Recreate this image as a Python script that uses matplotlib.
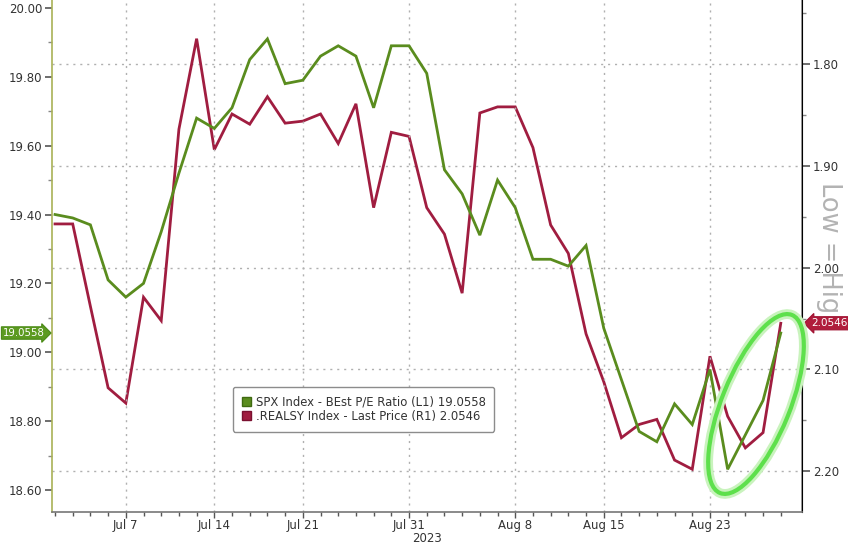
import matplotlib
matplotlib.use("Agg")
import matplotlib.pyplot as plt
import matplotlib.transforms as mtransforms
import matplotlib.patheffects as pe
from matplotlib.patches import Ellipse, Patch
from matplotlib.ticker import MultipleLocator, FormatStrFormatter

# ---- data (trading days, Jun 30 -> Aug 29, 2023) ----
dates = ["Jun 30", "Jul 3", "Jul 5", "Jul 6", "Jul 7",
         "Jul 10", "Jul 11", "Jul 12", "Jul 13", "Jul 14",
         "Jul 17", "Jul 18", "Jul 19", "Jul 20", "Jul 21",
         "Jul 24", "Jul 25", "Jul 26", "Jul 27", "Jul 28",
         "Jul 31", "Aug 1", "Aug 2", "Aug 3", "Aug 4",
         "Aug 7", "Aug 8", "Aug 9", "Aug 10", "Aug 11",
         "Aug 14", "Aug 15", "Aug 16", "Aug 17", "Aug 18",
         "Aug 21", "Aug 22", "Aug 23", "Aug 24", "Aug 25",
         "Aug 28", "Aug 29"]

spx_pe = [19.40, 19.39, 19.37, 19.21, 19.16,
          19.20, 19.35, 19.52, 19.68, 19.65,
          19.71, 19.85, 19.91, 19.78, 19.79,
          19.86, 19.89, 19.86, 19.71, 19.89,
          19.89, 19.81, 19.53, 19.46, 19.34,
          19.50, 19.42, 19.27, 19.27, 19.25,
          19.31, 19.07, 18.92, 18.77, 18.74,
          18.85, 18.79, 18.95, 18.66, 18.76,
          18.86, 19.0558]

real_yield = [1.957, 1.957, 2.038, 2.118, 2.133,
              2.029, 2.052, 1.864, 1.775, 1.884,
              1.849, 1.859, 1.832, 1.858, 1.856,
              1.849, 1.878, 1.839, 1.941, 1.867,
              1.871, 1.941, 1.967, 2.025, 1.848,
              1.842, 1.842, 1.882, 1.958, 1.986,
              2.065, 2.112, 2.167, 2.154, 2.149,
              2.189, 2.198, 2.087, 2.146, 2.177,
              2.162, 2.0546]

major_labels = ["Jul 7", "Jul 14", "Jul 21", "Jul 31", "Aug 8", "Aug 15", "Aug 23"]
year_label = "2023"
legend_labels = ["SPX Index - BEst P/E Ratio (L1) 19.0558",
                 ".REALSY Index - Last Price (R1) 2.0546"]
last_pe_label = "19.0558"
last_ry_label = "2.0546"
side_note = "Low = High"

GREEN = "#5a8c1e"
RED = "#a01d40"
TXT = "#333333"

W, H = 848, 546
fig = plt.figure(figsize=(W / 100, H / 100), dpi=100)
fig.patch.set_facecolor("white")
ax1 = fig.add_axes([52 / W, (H - 512) / H, 750 / W, 512 / H])
ax2 = ax1.twinx()
ax1.set_zorder(ax2.get_zorder() + 1)
ax1.patch.set_visible(False)
ax2.set_facecolor("white")

x = list(range(len(dates)))
major_idx = [dates.index(d) for d in major_labels]

ax2.plot(x, real_yield, color=RED, lw=2.0, solid_joinstyle="miter", zorder=3)
ax1.plot(x, spx_pe, color=GREEN, lw=2.0, solid_joinstyle="miter", zorder=3)

ax1.set_xlim(-0.17, 42.2)
ax1.set_ylim(18.536, 20.023)
ax2.set_ylim(2.240, 1.737)

# x axis
ax1.set_xticks(major_idx)
ax1.set_xticklabels(major_labels)
ax1.set_xticks(x, minor=True)
ax1.tick_params(axis="x", which="major", length=4, width=1, color="#555555",
                labelsize=8.5, labelcolor=TXT, pad=1)
ax1.tick_params(axis="x", which="minor", length=3, width=1, color="#555555")
ax1.set_xlabel(year_label, fontsize=8.5, color=TXT, labelpad=0)

# left axis
ax1.yaxis.set_major_locator(MultipleLocator(0.2))
ax1.yaxis.set_minor_locator(MultipleLocator(0.1))
ax1.yaxis.set_major_formatter(FormatStrFormatter("%.2f"))
ax1.tick_params(axis="y", which="major", length=5, width=1.2, color="#555555",
                labelsize=8.5, labelcolor=TXT, pad=2)
ax1.tick_params(axis="y", which="minor", length=3, width=1, color="#888888")

# right axis
ax2.yaxis.set_major_locator(MultipleLocator(0.1))
ax2.yaxis.set_minor_locator(MultipleLocator(0.05))
ax2.yaxis.set_major_formatter(FormatStrFormatter("%.2f"))
ax2.tick_params(axis="y", which="major", length=6, width=1.2, color="#555555",
                labelsize=8.5, labelcolor=TXT, pad=2)
ax2.tick_params(axis="y", which="minor", length=3, width=1, color="#888888")

# grids
ax2.yaxis.grid(True, which="major", color="#b0b0b0", linestyle=(0, (1.5, 3.5)), lw=1.0)
ax2.set_axisbelow(True)
ax1.xaxis.grid(True, which="major", color="#b0b0b0", linestyle=(0, (1.5, 3.5)), lw=1.0, zorder=1)
ax1.set_axisbelow(True)

for ax in (ax1, ax2):
    ax.spines["top"].set_visible(False)
ax1.spines["left"].set_color("#a9b256")
ax1.spines["left"].set_linewidth(1.2)
ax1.spines["bottom"].set_color("#777777")
ax1.spines["bottom"].set_linewidth(1.2)
ax2.spines["right"].set_color("#8a8a8a")
ax2.spines["right"].set_linewidth(1.2)
ax2.spines["left"].set_visible(False)
ax2.spines["bottom"].set_visible(False)

# last value tags
t1 = mtransforms.blended_transform_factory(ax1.transAxes, ax1.transData)
ax1.text(-0.010, spx_pe[-1], last_pe_label, transform=t1, ha="right", va="center",
         fontsize=7.3, color="white", clip_on=False, zorder=10,
         bbox=dict(boxstyle="rarrow,pad=0.12", fc="#5c9a20", ec="#4a8a16", lw=0.8))
t2 = mtransforms.blended_transform_factory(ax2.transAxes, ax2.transData)
ax2.text(1.012, real_yield[-1], last_ry_label, transform=t2, ha="left", va="center",
         fontsize=7.5, color="white", clip_on=False, zorder=10,
         bbox=dict(boxstyle="larrow,pad=0.15", fc="#b01c3c", ec="#a01030", lw=0.8))

# rotated side note (drawn beneath the axes so the tag covers its tail)
fig.text(829 / W, 1 - 182 / H, side_note, rotation=270, color="#b3b3b3",
         fontsize=18.5, ha="center", va="top", zorder=-1)

# highlight ellipse (pixel space annotation)
ell = Ellipse((756, H - 404), width=192, height=68, angle=68,
              transform=mtransforms.IdentityTransform(), fill=False,
              edgecolor="#5ee04c", lw=3.0, zorder=20, clip_on=False)
ell.set_path_effects([pe.Stroke(linewidth=7, foreground="#c9f3bd"), pe.Normal()])
fig.add_artist(ell)

# legend
handles = [Patch(facecolor=GREEN, edgecolor="#3f6a10"),
           Patch(facecolor=RED, edgecolor="#7a1030")]
leg = ax1.legend(handles, legend_labels, loc="upper left",
                 bbox_to_anchor=(0.2413, 0.244), borderaxespad=0,
                 fontsize=8.4, frameon=True,
                 handlelength=0.8, handleheight=0.8, handletextpad=0.4,
                 labelspacing=0.1, borderpad=0.75, fancybox=True,
                 edgecolor="#8c8c8c", framealpha=1.0)
leg.get_frame().set_linewidth(1.0)
for t in leg.get_texts():
    t.set_color(TXT)

fig.savefig("out.png", dpi=100, facecolor="white")
